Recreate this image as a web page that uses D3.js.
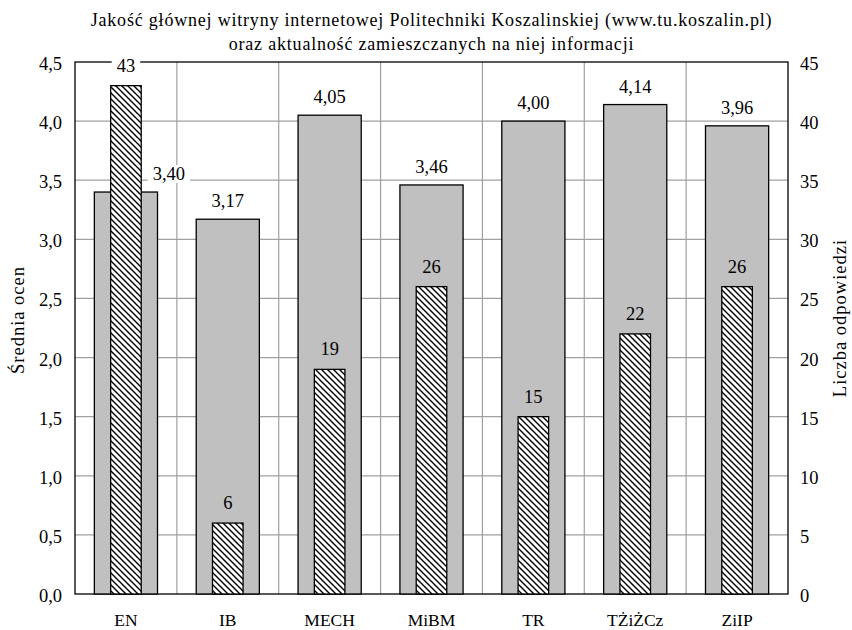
<!DOCTYPE html>
<html><head><meta charset="utf-8">
<script src="https://cdn.jsdelivr.net/npm/d3@7"></script>
<style>body{margin:0;background:#fff}svg{display:block}</style>
</head><body>
<script>
const categories = ["EN","IB","MECH","MiBM","TR","TŻiŻCz","ZiIP"];
const avgScores = [3.40,3.17,4.05,3.46,4.00,4.14,3.96];
const counts = [43,6,19,26,15,22,26];
const leftTicks = [0,0.5,1,1.5,2,2.5,3,3.5,4,4.5];
const rightTicks = [0,5,10,15,20,25,30,35,40,45];
const titleLines = ["Jakość głównej witryny internetowej Politechniki Koszalinskiej (www.tu.koszalin.pl)","oraz aktualność zamieszczanych na niej informacji"];
const leftTitle = "Średnia ocen", rightTitle = "Liczba odpowiedzi";

const W=852,H=630, m={l:75,r:64,t:62,b:36};
const svg=d3.select("body").append("svg").attr("width",W).attr("height",H)
  .attr("font-family","'Liberation Serif', 'Times New Roman', Tinos, 'DejaVu Serif', serif");
const defs=svg.append("defs");
const pat=defs.append("pattern").attr("id","hatch").attr("patternUnits","userSpaceOnUse").attr("width",6).attr("height",6);
pat.append("rect").attr("width",6).attr("height",6).attr("fill","#fff");
pat.append("path").attr("d","M-1,-1L7,7M-1,5L1,7M5,-1L7,1").attr("stroke","#000").attr("stroke-width",1.4);

const x=d3.scaleBand().domain(categories).range([m.l,W-m.r]);
const yL=d3.scaleLinear().domain([0,4.5]).range([H-m.b,m.t]);
const yR=d3.scaleLinear().domain([0,45]).range([H-m.b,m.t]);
const fmt=d3.formatLocale({decimal:",",thousands:" ",grouping:[3],currency:["",""]});
const f1=fmt.format(".1f"), f2=fmt.format(".2f");

// grid
const g=svg.append("g");
g.selectAll("line.h").data(leftTicks.slice(1,-1)).join("line").attr("x1",m.l).attr("x2",W-m.r)
 .attr("y1",d=>yL(d)).attr("y2",d=>yL(d)).attr("stroke","#a0a0a0").attr("stroke-width",1.2);
g.selectAll("line.v").data(categories.slice(1)).join("line").attr("x1",d=>x(d)).attr("x2",d=>x(d))
 .attr("y1",m.t).attr("y2",H-m.b).attr("stroke","#a0a0a0").attr("stroke-width",1.2);

// frame
svg.append("rect").attr("x",m.l).attr("y",m.t).attr("width",W-m.l-m.r).attr("height",H-m.t-m.b)
 .attr("fill","none").attr("stroke","#000").attr("stroke-width",1.3);

const bw=x.bandwidth();
const gw=bw*0.62, hw=bw*0.30;
svg.selectAll("rect.g").data(categories).join("rect")
 .attr("x",d=>x(d)+bw/2-gw/2).attr("width",gw)
 .attr("y",(d,i)=>yL(avgScores[i])).attr("height",(d,i)=>yL(0)-yL(avgScores[i]))
 .attr("fill","#c0c0c0").attr("stroke","#000").attr("stroke-width",1.3);
svg.selectAll("rect.h").data(categories).join("rect")
 .attr("x",d=>x(d)+bw/2-hw/2).attr("width",hw)
 .attr("y",(d,i)=>yR(counts[i])).attr("height",(d,i)=>yR(0)-yR(counts[i]))
 .attr("fill","url(#hatch)").attr("stroke","#000").attr("stroke-width",1.3);

function label(txt,cx,cy,bg){
  const t=svg.append("text").attr("x",cx).attr("y",cy).attr("text-anchor","middle").attr("dominant-baseline","central")
   .attr("font-size",18.5).text(txt);
  if(bg){const b=t.node().getBBox();
    svg.insert("rect",()=>t.node()).attr("x",b.x-5).attr("y",b.y+1).attr("width",b.width+10).attr("height",b.height-2).attr("fill","#fff");}
}
categories.forEach((c,i)=>{
  const cx=x(c)+bw/2;
  const gy=yL(avgScores[i])-18;
  const collide = yR(counts[i]) < gy+10;
  label(f2(avgScores[i]), collide? cx+43: cx, gy, true);
  const hy=yR(counts[i])-20;
  label(String(counts[i]), cx, hy, hy < yL(avgScores[i]));
});

svg.selectAll("text.l").data(leftTicks).join("text").attr("x",m.l-13).attr("y",d=>yL(d)+2).attr("text-anchor","end")
 .attr("dominant-baseline","central").attr("font-size",18.5).text(d=>f1(d));
svg.selectAll("text.r").data(rightTicks).join("text").attr("x",W-m.r+12).attr("y",d=>yR(d)+2).attr("text-anchor","start")
 .attr("dominant-baseline","central").attr("font-size",18.5).text(d=>d);
svg.selectAll("text.c").data(categories).join("text").attr("x",d=>x(d)+bw/2).attr("y",H-10).attr("text-anchor","middle")
 .attr("dominant-baseline","central").attr("font-size",17.5).text(d=>d);
svg.append("text").attr("transform",`translate(18,320) rotate(-90)`).attr("text-anchor","middle")
 .attr("dominant-baseline","central").attr("font-size",18.5).attr("letter-spacing",1).text(leftTitle);
svg.append("text").attr("transform",`translate(840,318) rotate(-90)`).attr("text-anchor","middle")
 .attr("dominant-baseline","central").attr("font-size",18.5).attr("letter-spacing",1).text(rightTitle);
svg.selectAll("text.t").data(titleLines).join("text").attr("x",(m.l+W-m.r)/2).attr("y",(d,i)=>20+i*24)
 .attr("text-anchor","middle").attr("dominant-baseline","central").attr("font-size",18).attr("letter-spacing",0.8).text(d=>d);
</script>
</body></html>
